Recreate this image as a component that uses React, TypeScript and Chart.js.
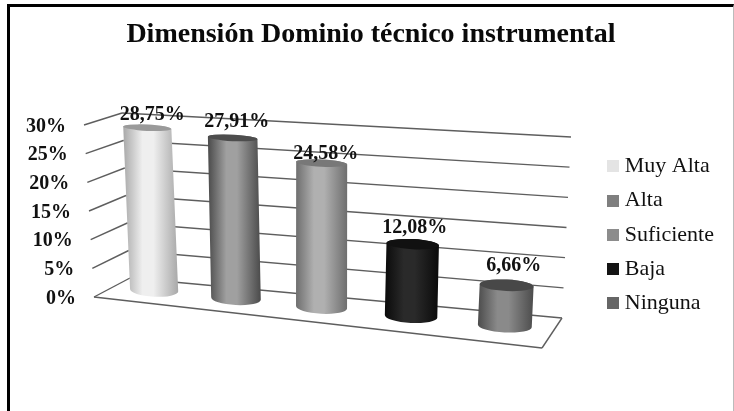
import React, { useEffect, useRef } from "react";
import { Chart, registerables } from "chart.js";

Chart.register(...registerables);

const TITLE = "Dimensión Dominio técnico instrumental";
const categories = ["Muy Alta", "Alta", "Suficiente", "Baja", "Ninguna"];
const values = [28.75, 27.91, 24.58, 12.08, 6.66];
const legendColors = ["#e4e4e4", "#7f7f7f", "#8c8c8c", "#141414", "#666666"];
const edgeColors = ["#a8a8a8", "#4a4a4a", "#6e6e6e", "#0a0a0a", "#4c4c4c"];
const shineColors = ["#efefef", "#a0a0a0", "#b0b0b0", "#2a2a2a", "#8a8a8a"];
const topColors = ["#9a9a9a", "#4d4d4d", "#787878", "#111111", "#484848"];

const SERIF = "'Liberation Serif', 'Times New Roman', serif";
const GRID = "#5e5e5e";

// Corners of the 3D box on the picture
const FLB = [94, 297], FRB = [542, 348], BLB = [130, 278], BRB = [562, 318];
const FLT = [84, 125], FRT = [554, 158], BLT = [122, 113], BRT = [571, 137];
const PERSPECTIVE = 0.12;
const BAR_DEPTH = 0.57;
const LABEL_DX = [5, 4, 4, 2, 7];
const LABEL_DY = [-13, -16, -9, -16, -19];

const lerp = (a: number[], b: number[], t: number) => [a[0] + (b[0] - a[0]) * t, a[1] + (b[1] - a[1]) * t];
const project = (u: number, v: number, d: number) => {
  const p = u / (1 + PERSPECTIVE * (1 - u));
  const floor = lerp(lerp(FLB, FRB, p), lerp(BLB, BRB, p), d);
  const roof = lerp(lerp(FLT, FRT, p), lerp(BLT, BRT, p), d);
  return lerp(floor, roof, v);
};
const line = (ctx: CanvasRenderingContext2D, a: number[], b: number[]) => {
  ctx.beginPath();
  ctx.moveTo(a[0], a[1]);
  ctx.lineTo(b[0], b[1]);
  ctx.stroke();
};

const box3d = {
  id: "box3d",
  beforeDatasetsDraw(chart: any) {
    const { ctx, chartArea: area, scales } = chart;
    const y = scales.y;
    const vOf = (px: number) => (area.bottom - px) / area.height;
    ctx.save();
    ctx.strokeStyle = GRID;
    ctx.lineWidth = 1.4;
    y.ticks.forEach((t: any, i: number) => {
      const v = vOf(y.getPixelForTick(i));
      line(ctx, project(0, v, 0), project(0, v, 1));
      line(ctx, project(0, v, 1), project(1, v, 1));
      const at = project(0, v, 0);
      ctx.fillStyle = "#111";
      ctx.font = "bold 20px " + SERIF;
      ctx.textAlign = "right";
      ctx.textBaseline = "middle";
      ctx.fillText(t.label, at[0] - 18, at[1] + 1.5);
    });
    const v0 = vOf(y.getPixelForValue(0));
    line(ctx, project(0, v0, 0), project(1, v0, 0));
    line(ctx, project(1, v0, 0), project(1, v0, 1));
    ctx.restore();
  },
  afterDatasetsDraw(chart: any) {
    const { ctx, chartArea: area } = chart;
    const meta = chart.getDatasetMeta(0);
    const widthScale = (FRB[0] - FLB[0]) / area.width;
    ctx.save();
    meta.data.forEach((bar: any, i: number) => {
      const u = (bar.x - area.left) / area.width;
      const v = (area.bottom - bar.y) / area.height;
      const rx = (bar.width / 2) * widthScale * (0.93 + 0.14 * u);
      const b = project(u, 0, BAR_DEPTH);
      const t = project(u, v, BAR_DEPTH);
      const ryB = 6.5;
      const ryT = 6.5 - 3.5 * v;
      const rot = 0.05;
      const left = Math.min(b[0], t[0]) - rx;
      const right = Math.max(b[0], t[0]) + rx;
      const g = ctx.createLinearGradient(left, 0, right, 0);
      g.addColorStop(0, edgeColors[i]);
      g.addColorStop(0.35, shineColors[i]);
      g.addColorStop(0.55, shineColors[i]);
      g.addColorStop(1, edgeColors[i]);
      ctx.fillStyle = g;
      ctx.beginPath();
      ctx.ellipse(b[0], b[1], rx, ryB, rot, 0, Math.PI);
      ctx.ellipse(t[0], t[1], rx, ryT, rot, Math.PI, Math.PI * 2);
      ctx.closePath();
      ctx.fill();
      ctx.fillStyle = topColors[i];
      ctx.beginPath();
      ctx.ellipse(t[0], t[1], rx, ryT, rot, 0, Math.PI * 2);
      ctx.fill();
      ctx.fillStyle = "#111";
      ctx.font = "bold 20px " + SERIF;
      ctx.textAlign = "center";
      ctx.textBaseline = "middle";
      ctx.fillText(values[i].toFixed(2).replace(".", ",") + "%", t[0] + LABEL_DX[i], t[1] + LABEL_DY[i]);
    });
    ctx.restore();
  },
};

const swatch = (color: string) => {
  const c = document.createElement("canvas");
  c.width = 12;
  c.height = 12;
  const x = c.getContext("2d")!;
  x.fillStyle = color;
  x.fillRect(0, 0, 12, 12);
  return c;
};

export default function App() {
  const ref = useRef<HTMLCanvasElement>(null);
  useEffect(() => {
    const chart = new Chart(ref.current!, {
      type: "bar",
      data: {
        labels: categories,
        datasets: [{ data: values, backgroundColor: "rgba(0,0,0,0)", barPercentage: 0.57, categoryPercentage: 1 }],
      },
      plugins: [box3d],
      options: {
        animation: false,
        responsive: false,
        layout: { padding: { left: 18, right: 10, bottom: 10 } },
        scales: {
          x: { ticks: { display: false }, grid: { display: false }, border: { display: false } },
          y: {
            min: 0,
            max: 30,
            ticks: { display: false, stepSize: 5, callback: (v: any) => v + "%" },
            grid: { display: false },
            border: { display: false },
          },
        },
        plugins: {
          tooltip: { enabled: false },
          title: {
            display: true,
            text: TITLE,
            color: "#0a0a0a",
            font: { family: SERIF, size: 28, weight: "bold" },
            padding: { top: 18, bottom: 25 },
          },
          legend: {
            position: "right",
            fullSize: false,
            labels: {
              usePointStyle: true,
              pointStyleWidth: 1,
              boxHeight: 12,
              color: "#111",
              padding: 12.3,
              font: { family: SERIF, size: 22 },
              generateLabels: () =>
                categories.map((text, i) => ({
                  text,
                  pointStyle: swatch(legendColors[i]),
                  fontColor: "#111",
                  fillStyle: legendColors[i],
                  strokeStyle: legendColors[i],
                  lineWidth: 0,
                  hidden: false,
                  index: i,
                })),
            },
          },
        },
      },
    } as any);
    return () => chart.destroy();
  }, []);
  return (
    <div style={{ position: "fixed", left: 0, top: 0, width: 734, height: 411, background: "#fff", overflow: "hidden" }}>
      <canvas ref={ref} width={734} height={411} style={{ display: "block", filter: "blur(0.5px)" }} />
      <div style={{ position: "absolute", left: 7, top: 4, right: 0, bottom: 0, borderLeft: "3px solid #000", borderTop: "3px solid #000", borderRight: "1px solid #bbb" }} />
    </div>
  );
}
